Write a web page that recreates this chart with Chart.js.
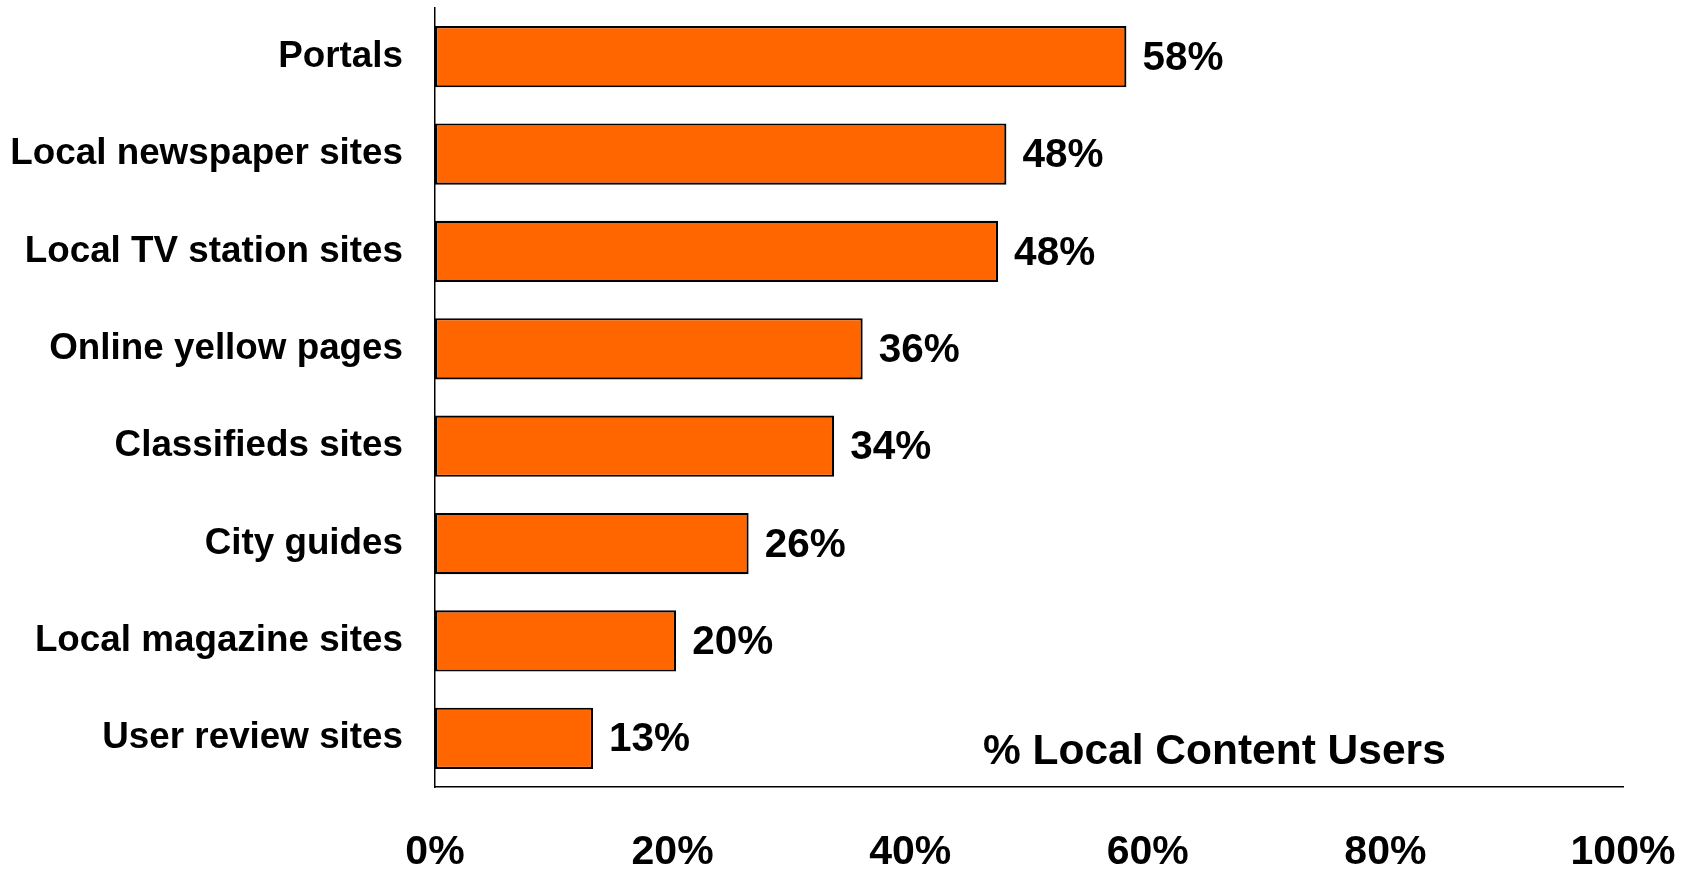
<!DOCTYPE html>
<html>
<head>
<meta charset="utf-8">
<script src="https://cdn.jsdelivr.net/npm/chart.js@4"></script>
<style>
  html, body { margin: 0; padding: 0; background: #fff; }
  #wrap { position: relative; width: 1694px; height: 869px; }
</style>
</head>
<body>
<div id="wrap"><canvas id="usersChart"></canvas></div>
<script>
const categories = ['Portals', 'Local newspaper sites', 'Local TV station sites', 'Online yellow pages',
    'Classifieds sites', 'City guides', 'Local magazine sites', 'User review sites'];
const values = [58.2, 48.1, 47.4, 36.0, 33.6, 26.4, 20.3, 13.3];
const valueLabels = ['58%', '48%', '48%', '36%', '34%', '26%', '20%', '13%'];
const xTicks = [0, 20, 40, 60, 80, 100];
const axisTitle = '% Local Content Users';

const FONT = '"Liberation Sans", Arial, sans-serif';

/* Value labels next to each bar */
const barLabels = {
    id: 'barLabels',
    afterDatasetsDraw(chart) {
        const ctx = chart.ctx;
        const meta = chart.getDatasetMeta(0);
        ctx.save();
        ctx.font = 'bold 40.5px ' + FONT;
        ctx.fillStyle = '#000';
        ctx.textAlign = 'left';
        ctx.textBaseline = 'middle';
        meta.data.forEach((bar, i) => {
            ctx.fillText(valueLabels[i], bar.x + 16, bar.y + 2);
        });
        ctx.restore();
    }
};

/* Axis caption sitting inside the plot, bottom right */
const axisCaption = {
    id: 'axisCaption',
    afterDraw(chart) {
        const area = chart.chartArea;
        const ctx = chart.ctx;
        ctx.save();
        ctx.font = 'bold 42.5px ' + FONT;
        ctx.fillStyle = '#000';
        ctx.textAlign = 'center';
        ctx.textBaseline = 'middle';
        ctx.fillText(axisTitle, area.left + (area.right - area.left) * 0.656, area.bottom - 35);
        ctx.restore();
    }
};

const ctx = document.getElementById('usersChart').getContext('2d');
new Chart(ctx, {
    type: 'bar',
    data: {
        labels: categories,
        datasets: [{
            label: axisTitle,
            data: values,
            backgroundColor: '#FF6600',
            borderColor: '#000',
            borderWidth: 2.2,
            borderSkipped: false,
            categoryPercentage: 1,
            barPercentage: 0.63
        }]
    },
    options: {
        indexAxis: 'y',
        responsive: true,
        maintainAspectRatio: false,
        animation: false,
        layout: { padding: { left: 11, right: 71, top: 8, bottom: 0 } },
        plugins: {
            legend: { display: false },
            tooltip: { enabled: false }
        },
        scales: {
            x: {
                min: 0,
                max: 100,
                afterBuildTicks: scale => { scale.ticks = xTicks.map(v => ({ value: v })); },
                afterFit: scale => {
                    scale.height = 82;
                    scale.paddingLeft = 0;
                    scale.paddingRight = 0;
                },
                grid: { display: false, drawTicks: false },
                border: { display: true, color: '#000', width: 1.5 },
                ticks: {
                    callback: v => v + '%',
                    color: '#000',
                    padding: 45,
                    maxRotation: 0,
                    font: { family: FONT, size: 41, weight: 'bold', lineHeight: 1 }
                }
            },
            y: {
                afterFit: scale => {
                    scale.width = 424;
                    scale.paddingTop = 0;
                    scale.paddingBottom = 0;
                },
                grid: { display: false, drawTicks: false },
                border: { display: true, color: '#000', width: 1.5 },
                ticks: {
                    color: '#000',
                    padding: 32,
                    font: { family: FONT, size: 36.8, weight: 'bold' }
                }
            }
        }
    },
    plugins: [barLabels, axisCaption]
});
</script>
</body>
</html>
